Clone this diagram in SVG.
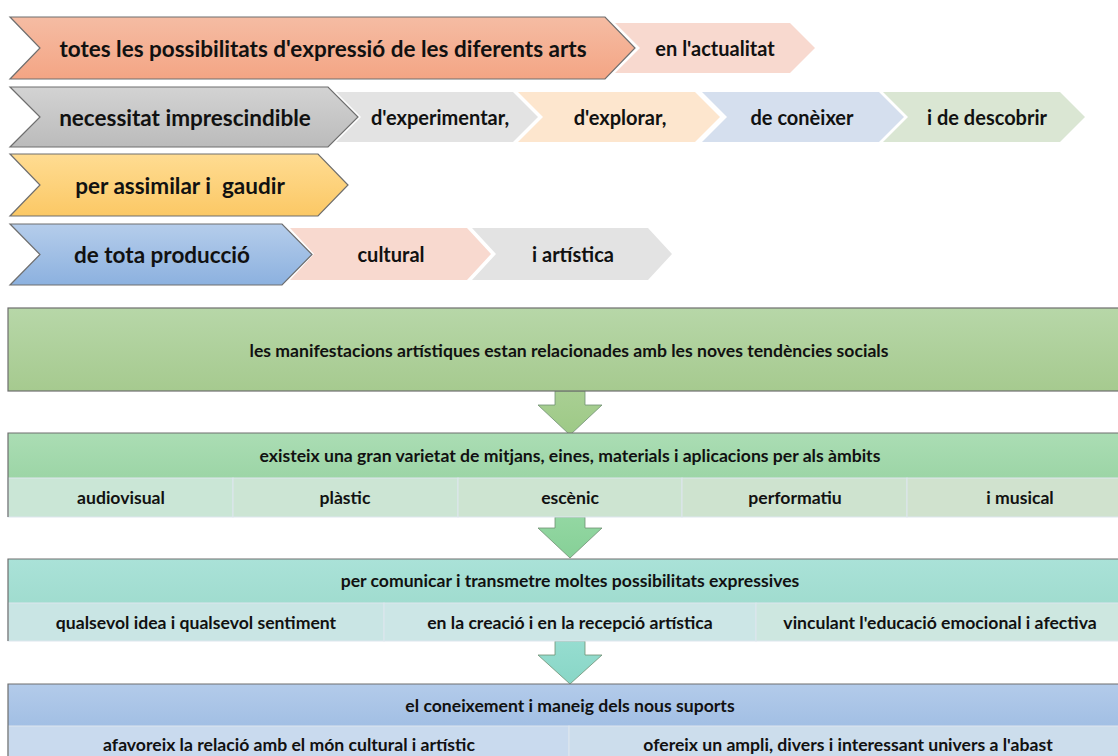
<svg xmlns="http://www.w3.org/2000/svg" width="1118" height="756" viewBox="0 0 1118 756">
<defs>
<style>
text{font-family:Lato,"Open Sans","Liberation Sans",sans-serif;font-weight:bold;fill:#111;text-anchor:middle;dominant-baseline:central}
.m{font-size:22.5px}
.s{font-size:20px}
.b{font-size:17.6px}
.main{stroke:#6e6e6e;stroke-width:1.2}
.box{stroke:#6e6e6e;stroke-width:1.2}
.cell{stroke:#dde6ee;stroke-width:1}
.arr{stroke:#6f8f72;stroke-width:0.8}
</style>
<linearGradient id="gSal" x1="0" y1="0" x2="0" y2="1"><stop offset="0" stop-color="#F5BCA3"/><stop offset="1" stop-color="#F4A584"/></linearGradient>
<linearGradient id="gGry" x1="0" y1="0" x2="0" y2="1"><stop offset="0" stop-color="#D3D3D3"/><stop offset="1" stop-color="#BBBBBB"/></linearGradient>
<linearGradient id="gYel" x1="0" y1="0" x2="0" y2="1"><stop offset="0" stop-color="#FFDC92"/><stop offset="1" stop-color="#FBC865"/></linearGradient>
<linearGradient id="gBlu" x1="0" y1="0" x2="0" y2="1"><stop offset="0" stop-color="#B5CDEB"/><stop offset="1" stop-color="#8CB1DF"/></linearGradient>
<linearGradient id="gB1" x1="0" y1="0" x2="0" y2="1"><stop offset="0" stop-color="#B7D7A8"/><stop offset="1" stop-color="#A6CA8F"/></linearGradient>
<linearGradient id="gB2" x1="0" y1="0" x2="0" y2="1"><stop offset="0" stop-color="#ABDDB4"/><stop offset="1" stop-color="#9CD5A6"/></linearGradient>
<linearGradient id="gB3" x1="0" y1="0" x2="0" y2="1"><stop offset="0" stop-color="#AAE2D8"/><stop offset="1" stop-color="#A0DCCF"/></linearGradient>
<linearGradient id="gB4" x1="0" y1="0" x2="0" y2="1"><stop offset="0" stop-color="#B3CBEA"/><stop offset="1" stop-color="#A2BFE4"/></linearGradient>
<linearGradient id="gA1" x1="0" y1="0" x2="0" y2="1"><stop offset="0" stop-color="#A9CF93"/><stop offset="1" stop-color="#9DC986"/></linearGradient>
<linearGradient id="gA2" x1="0" y1="0" x2="0" y2="1"><stop offset="0" stop-color="#93D7A2"/><stop offset="1" stop-color="#86D097"/></linearGradient>
<linearGradient id="gA3" x1="0" y1="0" x2="0" y2="1"><stop offset="0" stop-color="#96DDD0"/><stop offset="1" stop-color="#88D6C6"/></linearGradient>
</defs>
<rect width="1118" height="756" fill="#fff"/>

<g id="row1">
<g id="row1-sec1"><polygon points="615,23 790,23 815,48 790,73 615,73 640,48" fill="#F8D9CF"/><text class="s" x="715" y="48">en l'actualitat</text></g>
<g id="row1-main"><polygon class="main" points="10,17 605,17 635,48 605,79 10,79 40,48" fill="url(#gSal)"/><text class="m" x="323" y="48">totes les possibilitats d'expressió de les diferents arts</text></g>
</g>

<g id="row2">
<g id="row2-sec1"><polygon points="336,92 513,92 538,117 513,142 336,142 361,117" fill="#E3E3E3"/><text class="s" x="440" y="117">d'experimentar,</text></g>
<g id="row2-sec2"><polygon points="518,92 695,92 720,117 695,142 518,142 543,117" fill="#FDE6CE"/><text class="s" x="620" y="117">d'explorar,</text></g>
<g id="row2-sec3"><polygon points="702,92 879,92 904,117 879,142 702,142 727,117" fill="#D5DFEE"/><text class="s" x="802" y="117">de conèixer</text></g>
<g id="row2-sec4"><polygon points="883,92 1060,92 1085,117 1060,142 883,142 908,117" fill="#DAE6D3"/><text class="s" x="987" y="117">i de descobrir</text></g>
<g id="row2-main"><polygon class="main" points="10,87 328,87 358,117 328,147 10,147 40,117" fill="url(#gGry)"/><text class="m" x="185" y="117">necessitat imprescindible</text></g>
</g>

<g id="row3">
<g id="row3-main"><polygon class="main" points="10,154 318,154 348,185 318,216 10,216 40,185" fill="url(#gYel)"/><text class="m" x="180" y="185" xml:space="preserve">per assimilar i  gaudir</text></g>
</g>

<g id="row4">
<g id="row4-sec1"><polygon points="290,228 467,228 491,254 467,280 290,280 314,254" fill="#F8D9CF"/><text class="s" x="391" y="254">cultural</text></g>
<g id="row4-sec2"><polygon points="472,228 648,228 672,254 648,280 472,280 496,254" fill="#E3E3E3"/><text class="s" x="573" y="254">i artística</text></g>
<g id="row4-main"><polygon class="main" points="10,224 282,224 312,254.5 282,285 10,285 40,254.5" fill="url(#gBlu)"/><text class="m" x="162" y="254.5">de tota producció</text></g>
</g>

<g id="connectors">
<polygon class="arr" points="555,391 585,391 585,405 602,405 570,435 538,405 555,405" fill="url(#gA1)"/>
<polygon class="arr" points="555,517 585,517 585,528 602,528 570,558 538,528 555,528" fill="url(#gA2)"/>
<polygon class="arr" points="555,641 585,641 585,655 602,655 570,684 538,655 555,655" fill="url(#gA3)"/>
</g>

<g id="box1">
<rect class="box" x="8" y="308" width="1120" height="83" fill="url(#gB1)"/>
<text class="b" x="569" y="350">les manifestacions artístiques estan relacionades amb les noves tendències socials</text>
</g>

<g id="box2">
<rect x="8" y="433" width="1120" height="45" fill="url(#gB2)"/>
<rect class="cell" x="8" y="478" width="225" height="39" fill="#CAE6D6"/>
<rect class="cell" x="233" y="478" width="225" height="39" fill="#CCE5D4"/>
<rect class="cell" x="458" y="478" width="224" height="39" fill="#CDE4D1"/>
<rect class="cell" x="682" y="478" width="225" height="39" fill="#CEE3CF"/>
<rect class="cell" x="907" y="478" width="220" height="39" fill="#D0E2CE"/>
<path d="M8,517 V433 H1128" fill="none" stroke="#6e6e6e" stroke-width="1.2"/>
<text class="b" x="570" y="455">existeix una gran varietat de mitjans, eines, materials i aplicacions per als àmbits</text>
<text class="b" x="121" y="497">audiovisual</text>
<text class="b" x="345" y="497">plàstic</text>
<text class="b" x="570" y="497">escènic</text>
<text class="b" x="795" y="497">performatiu</text>
<text class="b" x="1020" y="497">i musical</text>
</g>

<g id="box3">
<rect x="8" y="559" width="1120" height="44" fill="url(#gB3)"/>
<rect class="cell" x="8" y="603" width="376" height="38" fill="#C9E5E4"/>
<rect class="cell" x="384" y="603" width="372" height="38" fill="#CCE6E6"/>
<rect class="cell" x="756" y="603" width="370" height="38" fill="#CDE7E0"/>
<path d="M8,641 V559 H1128" fill="none" stroke="#6e6e6e" stroke-width="1.2"/>
<text class="b" x="570" y="580">per comunicar i transmetre moltes possibilitats expressives</text>
<text class="b" x="196" y="622">qualsevol idea i qualsevol sentiment</text>
<text class="b" x="570" y="622">en la creació i en la recepció artística</text>
<text class="b" x="940" y="622">vinculant l'educació emocional i afectiva</text>
</g>

<g id="box4">
<rect x="8" y="684" width="1120" height="42" fill="url(#gB4)"/>
<rect class="cell" x="8" y="726" width="561" height="40" fill="#C9DAEE"/>
<rect class="cell" x="569" y="726" width="558" height="40" fill="#CCDDEC"/>
<path d="M8,760 V684 H1128" fill="none" stroke="#6e6e6e" stroke-width="1.2"/>
<text class="b" x="570" y="705">el coneixement i maneig dels nous suports</text>
<text class="b" x="289" y="744">afavoreix la relació amb el món cultural i artístic</text>
<text class="b" x="848" y="744">ofereix un ampli, divers i interessant univers a l'abast</text>
</g>
</svg>
